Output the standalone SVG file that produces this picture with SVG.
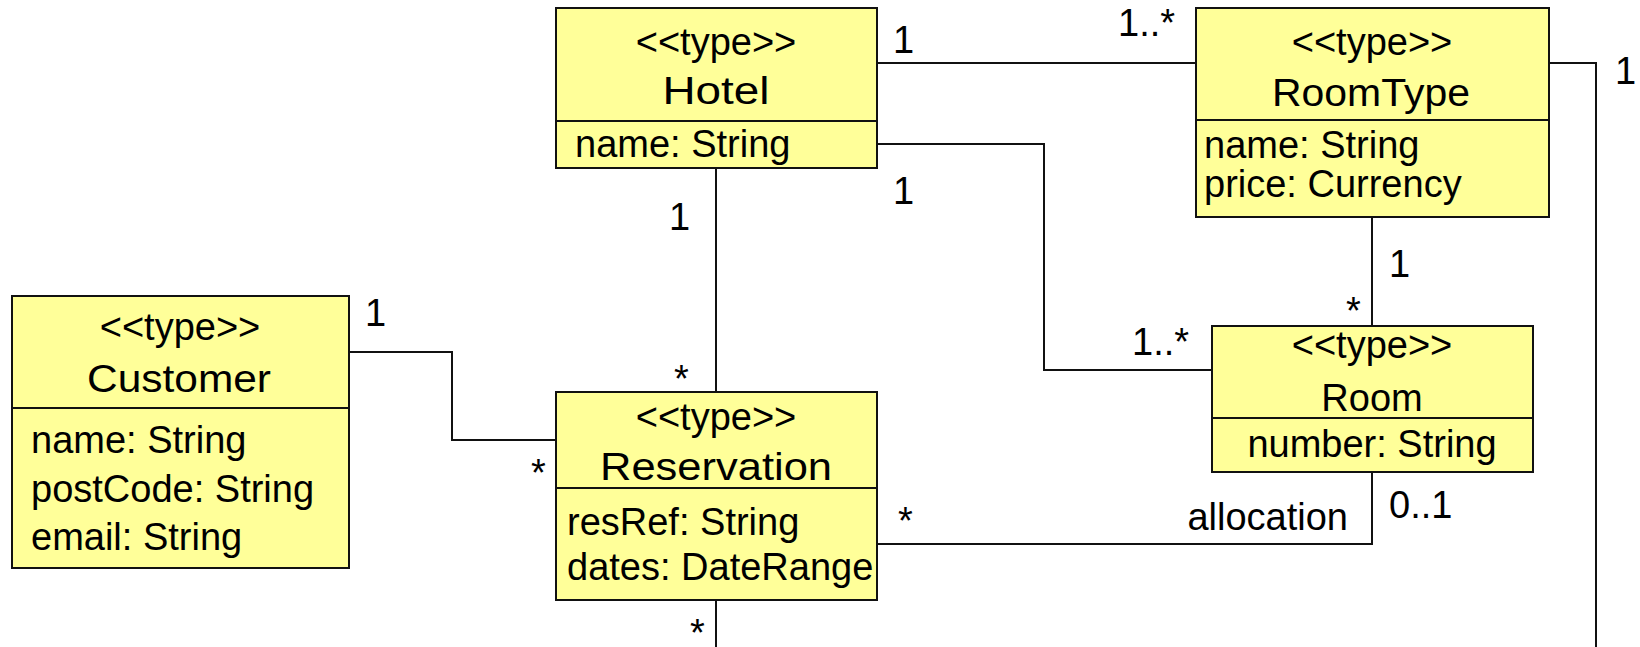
<svg xmlns="http://www.w3.org/2000/svg" width="1640" height="647" viewBox="0 0 1640 647">
  <style>
    .box { fill: #ffff99; stroke: #111; stroke-width: 2; }
    .div { stroke: #111; stroke-width: 2; }
    .conn { fill: none; stroke: #111; stroke-width: 2; }
    text { font-family: "Liberation Sans", Arial, sans-serif; font-size: 38px; fill: #000; }
    .c { text-anchor: middle; }
    .e { text-anchor: end; }
  </style>
  <rect width="1640" height="647" fill="#ffffff"/>

  <!-- associations -->
  <g id="connectors">
    <polyline class="conn" points="877,63 1196,63"/>
    <polyline class="conn" points="877,144 1044,144 1044,370 1212,370"/>
    <polyline class="conn" points="716,168 716,392"/>
    <polyline class="conn" points="349,352 452,352 452,440 556,440"/>
    <polyline class="conn" points="1372,217 1372,326"/>
    <polyline class="conn" points="1372,472 1372,544 877,544"/>
    <polyline class="conn" points="1549,63 1596,63 1596,647"/>
    <polyline class="conn" points="716,600 716,647"/>

    <!-- multiplicities and role names -->
    <text x="893" y="53">1</text>
    <text x="1118" y="36">1..*</text>
    <text x="893" y="204">1</text>
    <text x="1615" y="84">1</text>
    <text x="669" y="230">1</text>
    <text x="674" y="392">*</text>
    <text x="365" y="326">1</text>
    <text x="531" y="486">*</text>
    <text x="1346" y="324">*</text>
    <text x="1389" y="277">1</text>
    <text x="1132" y="355">1..*</text>
    <text x="898" y="534">*</text>
    <text class="e" x="1348" y="530">allocation</text>
    <text x="1389" y="518">0..1</text>
    <text x="690" y="646">*</text>
  </g>

  <g id="hotel">
    <rect class="box" x="556" y="8" width="321" height="160"/>
    <line class="div" x1="556" y1="121" x2="877" y2="121"/>
    <text class="c" x="716" y="55">&lt;&lt;type&gt;&gt;</text>
    <text class="c" x="716" y="104" textLength="107" lengthAdjust="spacingAndGlyphs">Hotel</text>
    <text x="575" y="157">name: String</text>
  </g>

  <g id="roomtype">
    <rect class="box" x="1196" y="8" width="353" height="209"/>
    <line class="div" x1="1196" y1="120" x2="1549" y2="120"/>
    <text class="c" x="1372" y="55">&lt;&lt;type&gt;&gt;</text>
    <text class="c" x="1371" y="106" textLength="198" lengthAdjust="spacingAndGlyphs">RoomType</text>
    <text x="1204" y="158">name: String</text>
    <text x="1204" y="197">price: Currency</text>
  </g>

  <g id="customer">
    <rect class="box" x="12" y="296" width="337" height="272"/>
    <line class="div" x1="12" y1="408" x2="349" y2="408"/>
    <text class="c" x="180" y="340">&lt;&lt;type&gt;&gt;</text>
    <text class="c" x="179" y="392" textLength="184" lengthAdjust="spacingAndGlyphs">Customer</text>
    <text x="31" y="453">name: String</text>
    <text x="31" y="502">postCode: String</text>
    <text x="31" y="550">email: String</text>
  </g>

  <g id="reservation">
    <rect class="box" x="556" y="392" width="321" height="208"/>
    <line class="div" x1="556" y1="488" x2="877" y2="488"/>
    <text class="c" x="716" y="430">&lt;&lt;type&gt;&gt;</text>
    <text class="c" x="716" y="480" textLength="232" lengthAdjust="spacingAndGlyphs">Reservation</text>
    <text x="567" y="535">resRef: String</text>
    <text x="567" y="580">dates: DateRange</text>
  </g>

  <g id="room">
    <rect class="box" x="1212" y="326" width="321" height="146"/>
    <line class="div" x1="1212" y1="418" x2="1533" y2="418"/>
    <text class="c" x="1372" y="358">&lt;&lt;type&gt;&gt;</text>
    <text class="c" x="1372" y="411">Room</text>
    <text class="c" x="1372" y="457">number: String</text>
  </g>
</svg>
